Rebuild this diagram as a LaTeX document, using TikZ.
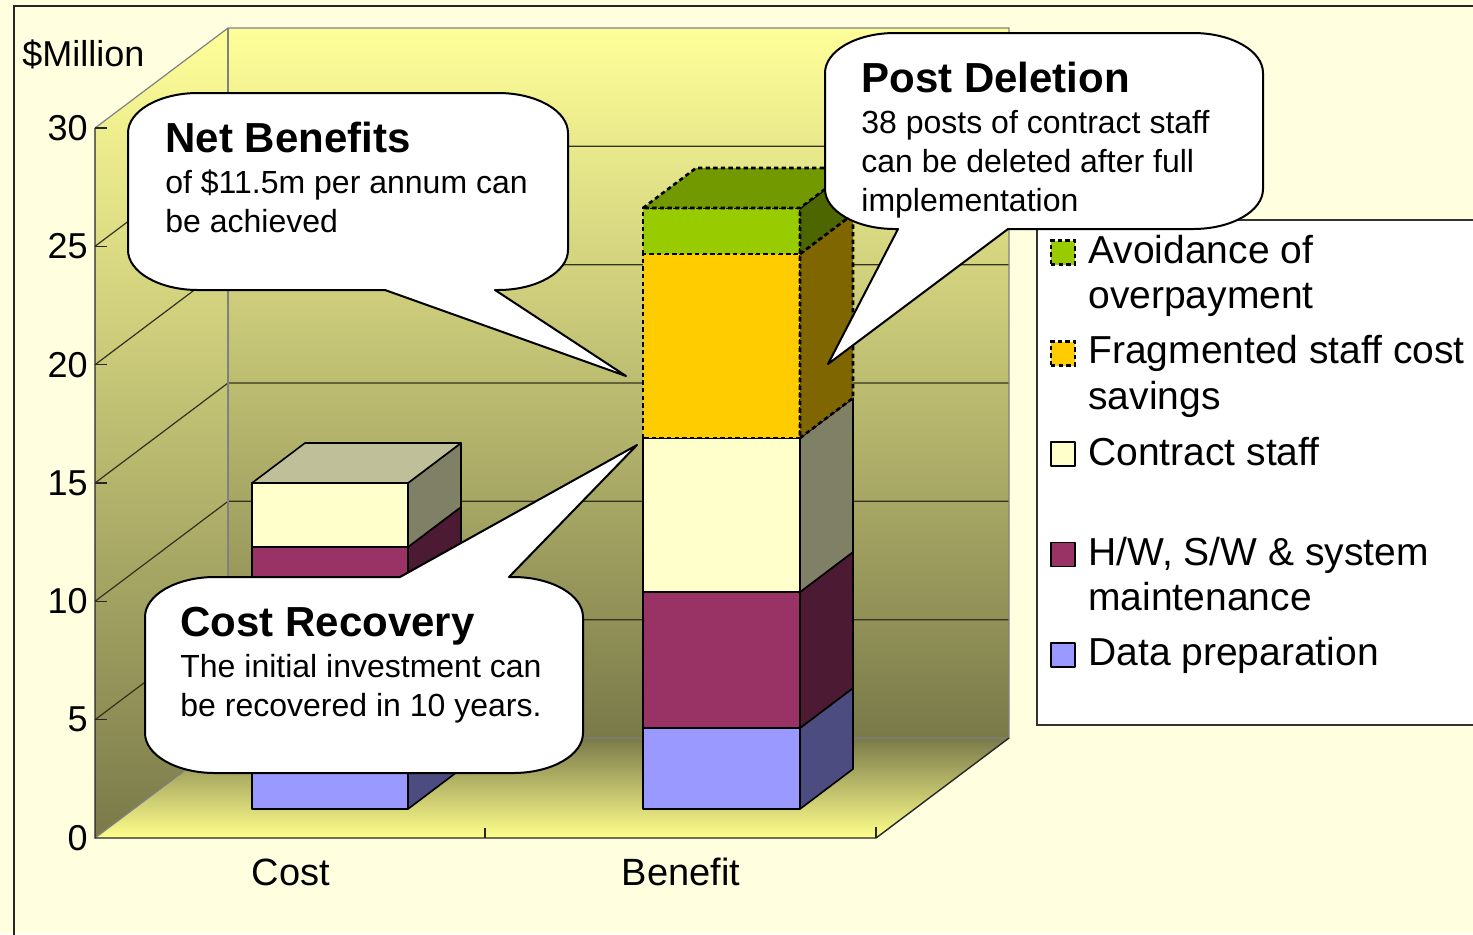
\documentclass[tikz,border=0pt]{standalone}
\usepackage{fontspec}
\setmainfont{Liberation Sans}
\definecolor{bgcream}{RGB}{255,255,224}
\definecolor{walltop}{RGB}{255,255,153}
\definecolor{wallbot}{RGB}{122,122,74}
\definecolor{floorfront}{RGB}{255,255,140}
\definecolor{gridc}{RGB}{50,50,30}
\definecolor{edgegray}{RGB}{128,128,128}
\definecolor{dataF}{RGB}{153,153,255}
\definecolor{dataS}{RGB}{76,76,128}
\definecolor{hwF}{RGB}{153,51,102}
\definecolor{hwS}{RGB}{77,26,51}
\definecolor{cstF}{RGB}{255,255,204}
\definecolor{cstS}{RGB}{128,128,102}
\definecolor{cstT}{RGB}{191,191,153}
\definecolor{fragF}{RGB}{255,204,0}
\definecolor{fragS}{RGB}{128,102,0}
\definecolor{avoidF}{RGB}{153,204,0}
\definecolor{avoidS}{RGB}{77,102,0}
\definecolor{avoidT}{RGB}{115,153,0}

% one stacked block: front face and right side face
% #1 x left, #2 x right, #3 y bottom, #4 y top, #5 front fill, #6 side fill, #7 line style
\newcommand\barblock[7]{%
  \filldraw[#7, fill=#5] (#1,#3) rectangle (#2,#4);
  \filldraw[#7, fill=#6] (#2,#3) -- (#2+53,#3-40) -- (#2+53,#4-40) -- (#2,#4) -- cycle;}
% top face of a stack: #1 x left, #2 x right, #3 y top, #4 fill, #5 line style
\newcommand\bartopface[5]{%
  \filldraw[#5, fill=#4] (#1,#3) -- (#1+53,#3-40) -- (#2+53,#3-40) -- (#2,#3) -- cycle;}

\begin{document}
\begin{tikzpicture}[x=0.5pt,y=-0.5pt,
  solidseg/.style={draw=black, line width=0.8pt, line join=round},
  dashseg/.style={draw=black, line width=1.3pt, dash pattern=on 2.2pt off 1.6pt},
  gridline/.style={draw=gridc, line width=0.6pt},
  walledge/.style={draw=edgegray, line width=0.6pt},
  axisline/.style={draw=black!85, line width=0.7pt},
  axnum/.style={anchor=east, inner sep=0pt, font=\fontsize{18pt}{21pt}\selectfont},
  cattxt/.style={anchor=base, inner sep=0pt, font=\fontsize{19pt}{22pt}\selectfont},
  legtxt/.style={anchor=base west, inner sep=0pt, font=\fontsize{19.5pt}{23pt}\selectfont},
  legsq/.style={minimum size=12pt, inner sep=0pt, line width=0.8pt},
  callout/.style={draw=black, fill=white, line width=1pt, line join=round},
  cotitle/.style={anchor=base west, inner sep=0pt, font=\fontsize{21pt}{25pt}\selectfont\bfseries},
  cobody/.style={anchor=base west, inner sep=0pt, font=\fontsize{16pt}{19pt}\selectfont}]

\useasboundingbox (0,0) rectangle (1473,934);
\clip (0,0) rectangle (1473,934);
\fill[bgcream] (0,0) rectangle (1473,934);

% chart frame
\draw[black!85, line width=0.8pt] (14,940) -- (14,6) -- (1480,6);

% walls and floor
\shade[top color=walltop, bottom color=wallbot] (228,28) rectangle (1009,738);
\shade[top color=walltop, bottom color=wallbot] (95,128) -- (228,28) -- (228,738) -- (95,838) -- cycle;
\shade[top color=wallbot, bottom color=floorfront] (95,838) -- (228,738) -- (1009,738) -- (876,838) -- cycle;

% gridlines on back and side walls
\foreach \yf in {246.3,364.7,483,601.3,719.7} {
  \draw[gridline] (95,\yf) -- (228,\yf-100) -- (1009,\yf-100);
}

% wall edges
\draw[walledge] (95,128) -- (228,28) -- (1009,28) -- (1009,738) -- (228,738) -- (95,838);
\draw[walledge] (228,28) -- (228,738);
% axes
\draw[axisline] (95,128) -- (95,838) -- (876,838) -- (1009,738);
\foreach \yf in {128,246.3,364.7,483,601.3,719.7} {
  \draw[axisline] (95,\yf) -- (107,\yf);
}
\draw[axisline] (485,838) -- (485,828);
\draw[axisline] (876,838) -- (876,827);

% Cost stack
\barblock{252}{408}{809}{740}{dataF}{dataS}{solidseg}
\barblock{252}{408}{740}{547}{hwF}{hwS}{solidseg}
\barblock{252}{408}{547}{483}{cstF}{cstS}{solidseg}
\bartopface{252}{408}{483}{cstT}{solidseg}

% Benefit stack
\barblock{643}{800}{809}{728}{dataF}{dataS}{solidseg}
\barblock{643}{800}{728}{592}{hwF}{hwS}{solidseg}
\barblock{643}{800}{592}{438}{cstF}{cstS}{solidseg}
\barblock{643}{800}{438}{254}{fragF}{fragS}{dashseg}
\barblock{643}{800}{254}{208}{avoidF}{avoidS}{dashseg}
\bartopface{643}{800}{208}{avoidT}{dashseg}

% axis labels
\node[anchor=base west, inner sep=0pt, font=\fontsize{18pt}{21pt}\selectfont] (unit) at (22,66) {\$Million};
\node[axnum] (v30) at (88,128) {30};
\node[axnum] (v25) at (88,246.3) {25};
\node[axnum] (v20) at (88,364.7) {20};
\node[axnum] (v15) at (88,483) {15};
\node[axnum] (v10) at (88,601.3) {10};
\node[axnum] (v5) at (88,719.7) {5};
\node[axnum] (v0) at (88,838) {0};
\node[cattxt] (catcost) at (291,885) {Cost};
\node[cattxt] (catben) at (681,885) {Benefit};

% legend
\filldraw[draw=black!80, fill=white, line width=0.6pt] (1037,220) rectangle (1490,725);
\node[legsq, fill=avoidF, dashseg] (sqA) at (1063,252.5) {};
\node[legsq, fill=fragF, dashseg] (sqF) at (1063,353.5) {};
\node[legsq, fill=cstF, solidseg] (sqC) at (1063,454) {};
\node[legsq, fill=hwF, solidseg] (sqH) at (1063,554.5) {};
\node[legsq, fill=dataF, solidseg] (sqD) at (1063,655) {};
\node[legtxt] (lgA1) at (1088,263) {Avoidance of};
\node[legtxt] (lgA2) at (1088,308) {overpayment};
\node[legtxt] (lgF1) at (1088,363) {Fragmented staff cost};
\node[legtxt] (lgF2) at (1088,409) {savings};
\node[legtxt] (lgC1) at (1088,465) {Contract staff};
\node[legtxt] (lgH1) at (1088,565) {H/W, S/W \& system};
\node[legtxt] (lgH2) at (1088,610) {maintenance};
\node[legtxt] (lgD1) at (1088,665) {Data preparation};

% callout: Net Benefits
\draw[callout] (128,133) .. controls (128,110.9) and (159.3,93) .. (198,93)
  -- (498,93) .. controls (536.7,93) and (568,110.9) .. (568,133)
  -- (568,250) .. controls (568,272.1) and (536.7,290) .. (498,290)
  -- (495,290) -- (626,376) -- (385,290) -- (198,290)
  .. controls (159.3,290) and (128,272.1) .. (128,250) -- cycle;
\node[cotitle] (nbT) at (165,152) {Net Benefits};
\node[cobody] (nb1) at (165,193) {of \$11.5m per annum can};
\node[cobody] (nb2) at (165,232) {be achieved};

% callout: Post Deletion
\draw[callout] (825,73) .. controls (825,50.9) and (856.3,33) .. (895,33)
  -- (1193,33) .. controls (1231.7,33) and (1263,50.9) .. (1263,73)
  -- (1263,189) .. controls (1263,211.1) and (1231.7,229) .. (1193,229)
  -- (1008,229) -- (828,364) -- (898,229) -- (895,229)
  .. controls (856.3,229) and (825,211.1) .. (825,189) -- cycle;
\node[cotitle] (pdT) at (861,92) {Post Deletion};
\node[cobody] (pd1) at (861,133) {38 posts of contract staff};
\node[cobody] (pd2) at (861,172) {can be deleted after full};
\node[cobody] (pd3) at (861,211) {implementation};

% callout: Cost Recovery
\draw[callout] (145,617) .. controls (145,594.9) and (176.3,577) .. (215,577)
  -- (400,577) -- (637,445) -- (509,577) -- (513,577)
  .. controls (551.7,577) and (583,594.9) .. (583,617)
  -- (583,733) .. controls (583,755.1) and (551.7,773) .. (513,773)
  -- (215,773) .. controls (176.3,773) and (145,755.1) .. (145,733) -- cycle;
\node[cotitle] (crT) at (180,636) {Cost Recovery};
\node[cobody] (cr1) at (180,677) {The initial investment can};
\node[cobody] (cr2) at (180,716) {be recovered in 10 years.};

\end{tikzpicture}
\end{document}
